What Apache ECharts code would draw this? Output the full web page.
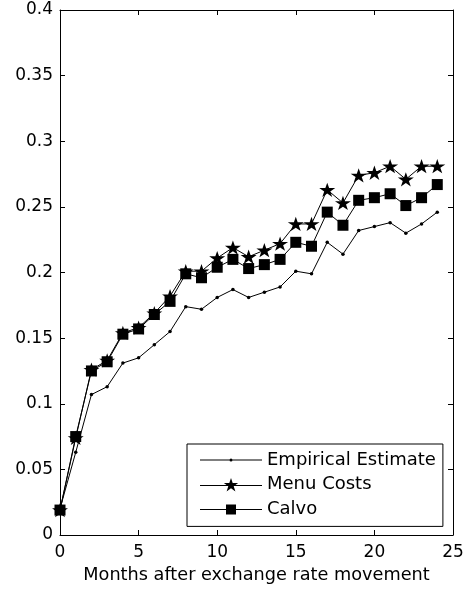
<!DOCTYPE html>
<html>
<head>
<meta charset="utf-8">
<script src="https://cdn.jsdelivr.net/npm/echarts@6/dist/echarts.min.js"></script>
<style>
html,body{margin:0;padding:0;background:#fff;}
#chart{width:467px;height:594px;}
</style>
</head>
<body>
<div id="chart"></div>
<script>
var months = [0,1,2,3,4,5,6,7,8,9,10,11,12,13,14,15,16,17,18,19,20,21,22,23,24];
var empirical = [0.020,0.063,0.107,0.113,0.131,0.135,0.145,0.155,0.174,0.172,0.181,0.187,0.181,0.185,0.189,0.201,0.199,0.223,0.214,0.232,0.235,0.238,0.230,0.237,0.246];
var menuCosts = [0.019,0.074,0.126,0.133,0.154,0.158,0.169,0.182,0.201,0.201,0.211,0.219,0.212,0.217,0.222,0.237,0.237,0.263,0.253,0.274,0.276,0.281,0.271,0.281,0.281];
var calvo = [0.019,0.075,0.125,0.132,0.153,0.157,0.168,0.178,0.199,0.196,0.204,0.210,0.203,0.206,0.210,0.223,0.220,0.246,0.236,0.255,0.257,0.260,0.251,0.257,0.267];
var seriesNames = ['Empirical Estimate','Menu Costs','Calvo'];
var xTitle = 'Months after exchange rate movement';

function pairs(vals){ return months.map(function(m,i){ return [m, vals[i]]; }); }

var FONT = 'DejaVu Sans';
var starPath = 'path://M50,0 L61.2,34.5 L97.6,34.5 L68.2,55.9 L79.4,90.5 L50,69.1 L20.6,90.5 L31.8,55.9 L2.4,34.5 L38.8,34.5 Z';

var legendIconDot = 'path://M0,6.5H62V7.5H0Z M29.5,7a1.5,1.5 0 1,1 3,0a1.5,1.5 0 1,1 -3,0Z';
var legendIconStar = 'path://M0,6.5H62V7.5H0Z M31,-0.5L32.68,4.68L38.13,4.68L33.72,7.89L35.41,13.07L31,9.87L26.59,13.07L28.28,7.89L23.87,4.68L29.32,4.68Z';
var legendIconSquare = 'path://M0,1.5H62V2.5H0Z M26,-3H36V7H26Z';

var axisCommon = {
  type: 'value',
  axisLine: {show: true, onZero: false, lineStyle: {color: '#000', width: 1}},
  axisTick: {show: true, inside: true, length: 5, lineStyle: {color: '#000', width: 1}},
  splitLine: {show: false}
};

var chart = echarts.init(document.getElementById('chart'), null, {renderer: 'canvas'});
chart.setOption({
  animation: false,
  backgroundColor: '#fff',
  grid: {left: 60, right: 14, top: 10, bottom: 59, containLabel: false},
  xAxis: [
    Object.assign({}, axisCommon, {
      min: 0, max: 25, interval: 5, position: 'bottom',
      axisLabel: {color: '#000', fontFamily: FONT, fontSize: 17, margin: 9},
      name: xTitle, nameLocation: 'middle', nameGap: 31,
      nameTextStyle: {color: '#000', fontFamily: FONT, fontSize: 17.7}
    }),
    Object.assign({}, axisCommon, {
      min: 0, max: 25, interval: 5, position: 'top',
      axisLabel: {show: false}
    })
  ],
  yAxis: [
    Object.assign({}, axisCommon, {
      min: 0, max: 0.4, interval: 0.05, position: 'left',
      axisLabel: {color: '#000', fontFamily: FONT, fontSize: 17, margin: 7}
    }),
    Object.assign({}, axisCommon, {
      min: 0, max: 0.4, interval: 0.05, position: 'right',
      axisLabel: {show: false}
    })
  ],
  legend: {
    orient: 'vertical',
    left: 187, top: 444,
    padding: [7, 7, 8, 13],
    itemGap: 6.7,
    itemWidth: 62, itemHeight: 14,
    backgroundColor: '#fff',
    borderColor: '#000', borderWidth: 1, borderRadius: 0,
    textStyle: {color: '#000', fontFamily: FONT, fontSize: 18},
    data: [
      {name: seriesNames[0], icon: legendIconDot},
      {name: seriesNames[1], icon: legendIconStar},
      {name: seriesNames[2], icon: legendIconSquare}
    ]
  },
  series: [
    {
      name: seriesNames[0], type: 'line', data: pairs(empirical),
      symbol: 'circle', symbolSize: 3.5,
      lineStyle: {color: '#000', width: 1}, itemStyle: {color: '#000'}
    },
    {
      name: seriesNames[1], type: 'line', data: pairs(menuCosts),
      symbol: starPath, symbolSize: [16, 15], symbolKeepAspect: true,
      lineStyle: {color: '#000', width: 1}, itemStyle: {color: '#000'}
    },
    {
      name: seriesNames[2], type: 'line', data: pairs(calvo),
      symbol: 'rect', symbolSize: 11,
      lineStyle: {color: '#000', width: 1}, itemStyle: {color: '#000'}
    }
  ]
});
</script>
</body>
</html>
